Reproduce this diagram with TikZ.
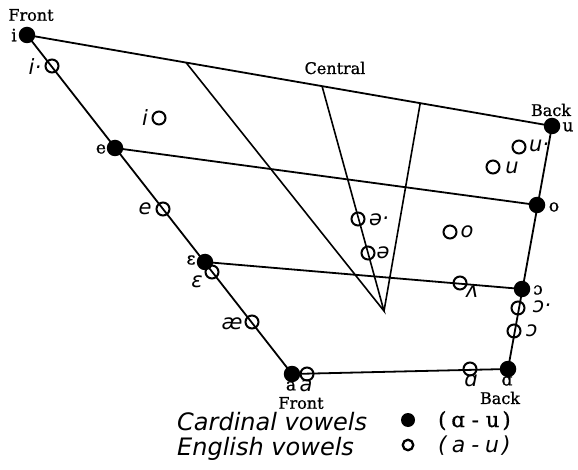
\documentclass[tikz,border=0pt]{standalone}
\usepackage{fontspec}
\setmainfont{DejaVu Serif}
\newfontfamily\clar[FakeBold=1]{DejaVu Serif}
\newfontfamily\hand{DejaVu Sans}
\usetikzlibrary{calc}
\begin{document}
\begin{tikzpicture}[x=1pt,y=-1pt,
  frame/.style={line width=1.8pt,line join=round},
  inner/.style={line width=1.6pt},
  card/.style={circle,fill=black,inner sep=0pt,minimum size=16.5pt},
  eng/.style={circle,draw=black,line width=2pt,inner sep=0pt,minimum size=13pt},
  cl/.style={font=\clar\fontsize{17}{19}\selectfont,inner sep=0pt},
  hd/.style={font=\clar\fontsize{16}{18}\selectfont,inner sep=0pt},
  el/.style={font=\hand\itshape\fontsize{21}{23}\selectfont,inner sep=0pt},
  leg/.style={font=\hand\itshape\fontsize{24}{26}\selectfont,inner sep=0pt,anchor=base west}]
\useasboundingbox (0,0) rectangle (578,470);
% cardinal vowels
\node[card] (i) at (27,35) {};
\node[card] (e) at (115,148) {};
\node[card] (E) at (205,262) {};
\node[card] (a) at (292,374) {};
\node[card] (A) at (508,369) {};
\node[card] (O) at (522,289) {};
\node[card] (o) at (537,205) {};
\node[card] (u) at (552,126) {};
% frame and lines
\draw[frame] (i.center) -- (a.center) -- (A.center) -- (u.center) -- cycle;
\draw[frame] (e.center) -- (o.center);
\draw[frame] (E.center) -- (O.center);
\coordinate (c1) at ($(i.center)!0.303!(u.center)$);
\coordinate (c2) at ($(i.center)!0.562!(u.center)$);
\coordinate (c3) at ($(i.center)!0.749!(u.center)$);
\coordinate (apex) at (384,311);
\draw[inner] (c1) -- (apex) -- (c2);
\draw[inner] (c3) -- (apex);
% English vowels
\node[eng] (ii) at (52,66) {};
\node[eng] (i2) at (159,118) {};
\node[eng] (ee) at (163,209) {};
\node[eng] (EE) at (212,272) {};
\node[eng] (ae) at (252,322) {};
\node[eng] (aa) at (307,374) {};
\node[eng] (AA) at (470,369) {};
\node[eng] (vv) at (460,283) {};
\node[eng] (OO1) at (518,308) {};
\node[eng] (OO2) at (514,331) {};
\node[eng] (oo) at (450,232) {};
\node[eng] (uu1) at (519,147) {};
\node[eng] (uu2) at (493,167) {};
\node[eng] (s1) at (358,219) {};
\node[eng] (s2) at (368,253) {};
% cardinal labels
\node[hd] (fr1) at (31,15) {Front};
\node[cl] (li) at (14,35) {i};
\node[cl] (le) at (101,149) {e};
\node[cl] (lE) at (191,260) {ɛ};
\node[cl] (la) at (291,386) {a};
\node[hd] (fr2) at (301,403) {Front};
\node[cl] (lA) at (507,381) {ɑ};
\node[hd] (bk2) at (500,398) {Back};
\node[cl] (lO) at (538,290) {ɔ};
\node[cl] (lo) at (554,207) {o};
\node[cl] (lu) at (568,127) {u};
\node[hd] (bk1) at (551,110) {Back};
\node[hd] (cen) at (335,68) {Central};
% English labels
\node[el] (lii) at (35,67) {i·};
\node[el] (li2) at (145,118) {i};
\node[el] (lee) at (145,209) {e};
\node[el] (lEE) at (197,282) {ɛ};
\node[el] (lae) at (232,324) {æ};
\node[el] (laa) at (306,386) {a};
\node[el] (lAA) at (471,381) {ɑ};
\node[el] (lvv) at (472,292) {ʌ};
\node[el] (lOO1) at (542,307) {ɔ·};
\node[el] (lOO2) at (532,331) {ɔ};
\node[el] (loo) at (467,232) {o};
\node[el] (luu1) at (539,146) {u·};
\node[el] (luu2) at (512,168) {u};
\node[el] (ls1) at (379,220) {ə·};
\node[el] (ls2) at (383,253) {ə};
% legend
\node[leg] (lc) at (177,430) {Cardinal vowels};
\node[card,minimum size=14pt] (kc) at (408,420) {};
\node[anchor=base west,inner sep=0pt,font=\clar\fontsize{21}{23}\selectfont] (kct) at (438,427) {(\hspace{5pt}ɑ\hspace{7pt}-\hspace{7pt}u\hspace{3pt})};
\node[leg] (le2) at (177,455) {English vowels};
\node[eng,minimum size=10.5pt,line width=2.3pt] (ke) at (408,445) {};
\node[anchor=base west,inner sep=0pt,font=\hand\itshape\fontsize{22}{24}\selectfont] (ket) at (438,452) {(\hspace{5pt}a\hspace{6pt}-\hspace{6pt}u\hspace{3pt})};
\end{tikzpicture}
\end{document}
